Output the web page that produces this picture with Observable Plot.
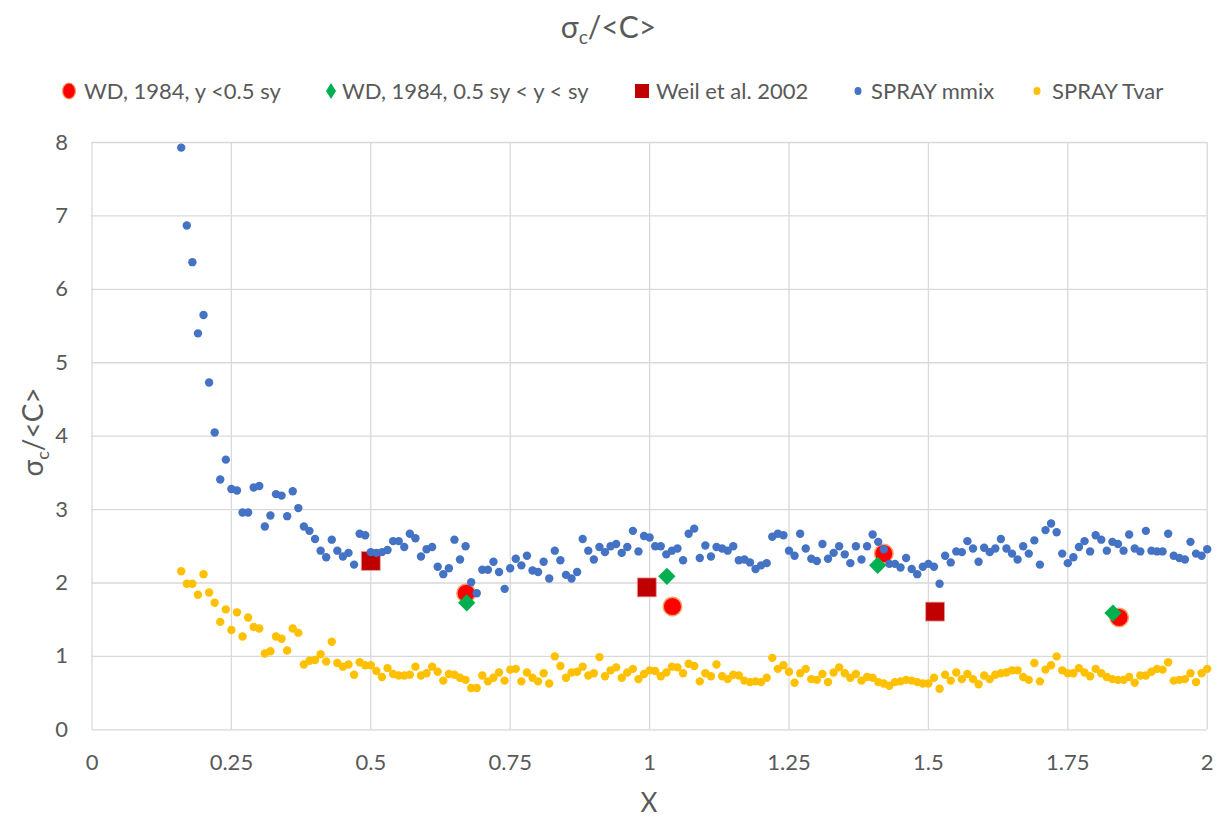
<!DOCTYPE html>
<html>
<head>
<meta charset="utf-8">
<script src="https://cdn.jsdelivr.net/npm/d3@7"></script>
<script src="https://cdn.jsdelivr.net/npm/@observablehq/plot@0.6"></script>
<style>
  html, body { margin: 0; padding: 0; background: #fff; width: 1217px; height: 822px; overflow: hidden; }
  body { position: relative; font-family: Lato, "Open Sans", sans-serif; color: #595959; }
  #title { position: absolute; left: 0; width: 1217px; top: 6px; text-align: center; font-size: 30px; line-height: 40px; }
  #title sub { font-size: 19px; vertical-align: -6px; line-height: 0; }
  .leg { position: absolute; top: 79px; font-size: 22px; white-space: nowrap; line-height: 24px; }
  .leg svg { position: absolute; top: 1px; }
  #chart { position: absolute; left: 0; top: 120px; }
  #ylab { position: absolute; left: 32px; top: 432px; transform: translate(-50%, -50%) rotate(-90deg); font-size: 28px; white-space: nowrap; line-height: 34px; }
  #ylab sub { font-size: 18px; vertical-align: -6px; line-height: 0; }
  #xlab { position: absolute; left: 649px; top: 802px; transform: translate(-50%, -50%); font-size: 26px; }
</style>
</head>
<body>
<div id="title">σ<sub>c</sub>/&lt;C&gt;</div>
<div id="legend"></div>
<div id="chart"></div>
<div id="ylab">σ<sub>c</sub>/&lt;C&gt;</div>
<div id="xlab">X</div>
<script>
// ---- data ----
const xTicks = [0, 0.25, 0.5, 0.75, 1, 1.25, 1.5, 1.75, 2];
const yTicks = [0, 1, 2, 3, 4, 5, 6, 7, 8];

const seriesNames = ["WD, 1984, y <0.5 sy", "WD, 1984, 0.5 sy < y < sy", "Weil et al. 2002", "SPRAY mmix", "SPRAY Tvar"];

const wdInnerX = [0.671, 1.041, 1.420, 1.842];
const wdInnerY = [1.86, 1.68, 2.40, 1.53];

const wdOuterX = [0.672, 1.031, 1.409, 1.831];
const wdOuterY = [1.73, 2.09, 2.24, 1.59];

const weilX = [0.500, 0.995, 1.512];
const weilY = [2.30, 1.94, 1.61];

const sprayX = [0.16,0.17,0.18,0.19,0.20,0.21,0.22,0.23,0.24,0.25,0.26,0.27,0.28,0.29,0.30,0.31,0.32,0.33,0.34,0.35,0.36,0.37,0.38,0.39,0.40,0.41,0.42,0.43,0.44,0.45,0.46,0.47,0.48,0.49,0.50,0.51,0.52,0.53,0.54,0.55,0.56,0.57,0.58,0.59,0.60,0.61,0.62,0.63,0.64,0.65,0.66,0.67,0.68,0.69,0.70,0.71,0.72,0.73,0.74,0.75,0.76,0.77,0.78,0.79,0.80,0.81,0.82,0.83,0.84,0.85,0.86,0.87,0.88,0.89,0.90,0.91,0.92,0.93,0.94,0.95,0.96,0.97,0.98,0.99,1.00,1.01,1.02,1.03,1.04,1.05,1.06,1.07,1.08,1.09,1.10,1.11,1.12,1.13,1.14,1.15,1.16,1.17,1.18,1.19,1.20,1.21,1.22,1.23,1.24,1.25,1.26,1.27,1.28,1.29,1.30,1.31,1.32,1.33,1.34,1.35,1.36,1.37,1.38,1.39,1.40,1.41,1.42,1.43,1.44,1.45,1.46,1.47,1.48,1.49,1.50,1.51,1.52,1.53,1.54,1.55,1.56,1.57,1.58,1.59,1.60,1.61,1.62,1.63,1.64,1.65,1.66,1.67,1.68,1.69,1.70,1.71,1.72,1.73,1.74,1.75,1.76,1.77,1.78,1.79,1.80,1.81,1.82,1.83,1.84,1.85,1.86,1.87,1.88,1.89,1.90,1.91,1.92,1.93,1.94,1.95,1.96,1.97,1.98,1.99,2.00];

const mmixY = [7.93,6.87,6.37,5.40,5.65,4.73,4.05,3.41,3.68,3.28,3.26,2.96,2.96,3.30,3.32,2.77,2.92,3.21,3.19,2.91,3.25,3.02,2.77,2.71,2.60,2.44,2.35,2.59,2.44,2.36,2.41,2.25,2.67,2.65,2.42,2.41,2.42,2.45,2.57,2.57,2.49,2.67,2.61,2.36,2.46,2.49,2.22,2.12,2.20,2.59,2.32,2.50,2.01,1.86,2.18,2.18,2.29,2.15,1.92,2.20,2.33,2.24,2.37,2.17,2.15,2.29,2.06,2.44,2.31,2.11,2.06,2.15,2.60,2.44,2.32,2.49,2.42,2.50,2.53,2.41,2.49,2.71,2.43,2.64,2.62,2.50,2.50,2.39,2.44,2.47,2.31,2.67,2.74,2.34,2.51,2.36,2.49,2.47,2.44,2.50,2.31,2.32,2.28,2.19,2.24,2.27,2.63,2.67,2.65,2.44,2.37,2.67,2.47,2.33,2.30,2.53,2.33,2.41,2.50,2.39,2.27,2.50,2.32,2.50,2.66,2.56,2.46,2.26,2.26,2.21,2.34,2.19,2.12,2.22,2.26,2.22,1.99,2.37,2.28,2.43,2.42,2.57,2.47,2.29,2.48,2.42,2.47,2.60,2.47,2.40,2.32,2.50,2.40,2.58,2.25,2.72,2.81,2.69,2.40,2.27,2.35,2.49,2.57,2.43,2.65,2.59,2.44,2.56,2.53,2.44,2.66,2.47,2.43,2.71,2.44,2.43,2.43,2.67,2.37,2.34,2.32,2.56,2.40,2.37,2.46];

const tvarY = [2.16,1.99,1.99,1.84,2.12,1.87,1.73,1.47,1.64,1.36,1.60,1.27,1.53,1.40,1.38,1.04,1.07,1.27,1.24,1.08,1.38,1.32,0.89,0.94,0.95,1.03,0.93,1.20,0.91,0.86,0.89,0.75,0.92,0.88,0.88,0.80,0.72,0.84,0.76,0.74,0.74,0.75,0.86,0.74,0.77,0.86,0.79,0.67,0.76,0.75,0.71,0.68,0.57,0.57,0.74,0.66,0.71,0.78,0.67,0.82,0.83,0.66,0.78,0.71,0.66,0.77,0.63,1.00,0.87,0.71,0.78,0.79,0.86,0.74,0.77,0.99,0.73,0.81,0.85,0.71,0.78,0.83,0.69,0.76,0.81,0.80,0.73,0.78,0.86,0.85,0.77,0.90,0.87,0.66,0.77,0.73,0.89,0.73,0.69,0.75,0.74,0.67,0.65,0.66,0.65,0.71,0.98,0.83,0.88,0.79,0.64,0.77,0.83,0.69,0.68,0.76,0.65,0.78,0.85,0.77,0.71,0.76,0.67,0.72,0.71,0.65,0.63,0.60,0.65,0.66,0.68,0.67,0.65,0.63,0.63,0.71,0.56,0.75,0.67,0.78,0.69,0.76,0.69,0.62,0.74,0.69,0.75,0.77,0.78,0.81,0.81,0.72,0.68,0.91,0.66,0.82,0.88,1.00,0.81,0.77,0.77,0.84,0.78,0.73,0.83,0.77,0.72,0.69,0.68,0.68,0.72,0.64,0.74,0.74,0.79,0.83,0.82,0.92,0.67,0.68,0.69,0.77,0.65,0.77,0.83];

// ---- build tables ----
const zip = (xs, ys) => xs.map((x, i) => ({x, y: ys[i]}));
const wdInner = zip(wdInnerX, wdInnerY);
const wdOuter = zip(wdOuterX, wdOuterY);
const weil = zip(weilX, weilY);
const mmix = zip(sprayX, mmixY);
const tvar = zip(sprayX, tvarY);

const gridStyle = {stroke: "#d9d9d9", strokeOpacity: 1, strokeWidth: 1.3};

const chart = Plot.plot({
  width: 1217,
  height: 702,
  marginTop: 22,
  marginBottom: 92.7,
  marginLeft: 91.5,
  marginRight: 10.3,
  style: {fontFamily: "Lato, 'Open Sans', sans-serif", fontSize: "22px", color: "#595959", background: "#fff", overflow: "visible"},
  x: {domain: [0, 2]},
  y: {domain: [0, 8]},
  marks: [
    Plot.gridX(xTicks, gridStyle),
    Plot.gridY(yTicks, gridStyle),
    Plot.axisX(xTicks, {tickSize: 0, tickPadding: 25, label: null, fill: "#595959", fontSize: 22, tickFormat: d => String(d)}),
    Plot.axisY(yTicks, {tickSize: 0, tickPadding: 24, label: null, fill: "#595959", fontSize: 22, tickFormat: d => String(d)}),
    Plot.dot(wdInner, {x: "x", y: "y", r: 9.3, fill: "#ff0000", stroke: "#f6a36c", strokeWidth: 1.5}),
    Plot.dot(wdOuter, {x: "x", y: "y", r: 7.8, symbol: "diamond2", fill: "#00b050", stroke: "none"}),
    Plot.dot(weil, {x: "x", y: "y", r: 10.7, symbol: "square", fill: "#c00000", stroke: "#e8a0a0", strokeWidth: 0.8}),
    Plot.dot(mmix, {x: "x", y: "y", r: 4.2, fill: "#4472c4", stroke: "none"}),
    Plot.dot(tvar, {x: "x", y: "y", r: 4.2, fill: "#ffc000", stroke: "none"})
  ]
});
document.getElementById("chart").appendChild(chart);

// ---- legend ----
const legendItems = [
  {name: seriesNames[0], left: 60, text: 84, shape: "circle", color: "#ff0000"},
  {name: seriesNames[1], left: 324, text: 342, shape: "diamond", color: "#00b050"},
  {name: seriesNames[2], left: 633, text: 656, shape: "square", color: "#c00000"},
  {name: seriesNames[3], left: 852, text: 871, shape: "dot", color: "#4472c4"},
  {name: seriesNames[4], left: 1031, text: 1052, shape: "dot", color: "#ffc000"}
];
const legend = d3.select("#legend");
for (const it of legendItems) {
  const g = legend.append("div").attr("class", "leg").style("left", it.left + "px");
  const s = g.append("svg").attr("width", 20).attr("height", 22).style("left", "0px");
  if (it.shape === "circle") s.append("ellipse").attr("cx", 9).attr("cy", 11).attr("rx", 6.5).attr("ry", 8).attr("fill", it.color).attr("stroke", "#f6a36c").attr("stroke-width", 1.2);
  if (it.shape === "diamond") s.append("path").attr("d", "M7,3 L12,11 L7,19 L2,11 Z").attr("fill", it.color);
  if (it.shape === "square") s.append("rect").attr("x", 2).attr("y", 4).attr("width", 14).attr("height", 14).attr("fill", it.color);
  if (it.shape === "dot") s.append("ellipse").attr("cx", 6).attr("cy", 11).attr("rx", 3.5).attr("ry", 4).attr("fill", it.color);
  g.append("span").style("position", "absolute").style("left", (it.text - it.left) + "px").style("top", "0px").text(it.name);
}
</script>
</body>
</html>
